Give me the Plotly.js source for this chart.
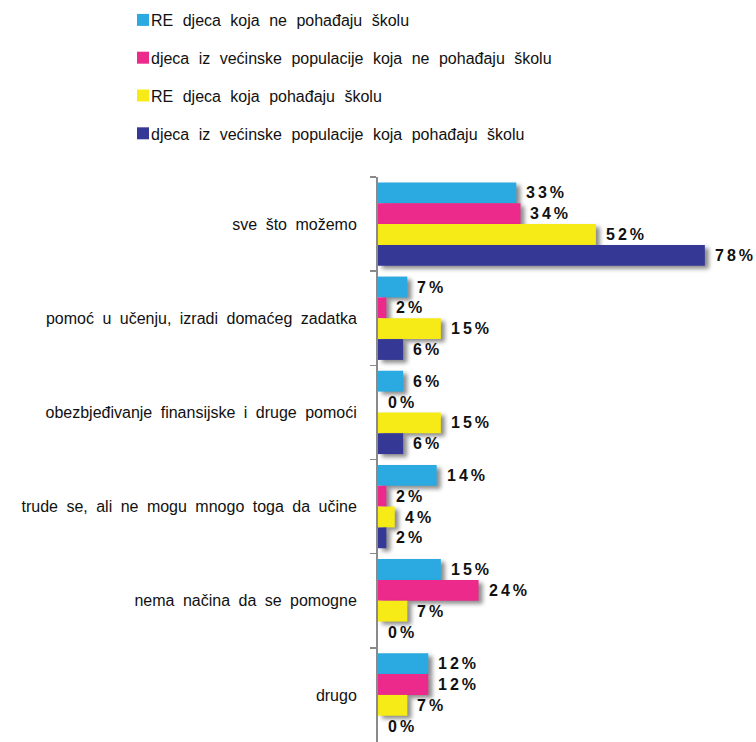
<!DOCTYPE html>
<html>
<head>
<meta charset="utf-8">
<script src="https://cdn.plot.ly/plotly-3.0.1.min.js"></script>
<style>
  html, body { margin: 0; padding: 0; background: #fff; }
  #chart { width: 756px; height: 742px; }
  .bars .point path { filter: drop-shadow(4px 3px 2px rgba(0,0,0,0.45)); }
  .annotation-text { letter-spacing: 3px; }
  .ytick text { word-spacing: 4px; }
  .legendtext { word-spacing: 5px; translate: -12px 0; }
</style>
</head>
<body>
<div id="chart"></div>
<script>
var categories = [
  "sve što možemo",
  "pomoć u učenju, izradi domaćeg zadatka",
  "obezbjeđivanje finansijske i druge pomoći",
  "trude se, ali ne mogu mnogo toga da učine",
  "nema načina da se pomogne",
  "drugo"
];
var seriesNames = [
  "RE djeca koja ne pohađaju školu",
  "djeca iz većinske populacije koja ne pohađaju školu",
  "RE djeca koja pohađaju školu",
  "djeca iz većinske populacije koja pohađaju školu"
];
var reNotInSchool = [33, 7, 6, 14, 15, 12];
var majorityNotInSchool = [34, 2, 0, 2, 24, 12];
var reInSchool = [52, 15, 15, 4, 7, 7];
var majorityInSchool = [78, 6, 6, 2, 0, 0];
var seriesValues = [reNotInSchool, majorityNotInSchool, reInSchool, majorityInSchool];
var colors = ["#2BAAE2", "#EC2A8C", "#F6EB16", "#353894"];

var BARGAP = 0.115;

var traces = seriesValues.map(function (vals, i) {
  return {
    type: "bar",
    orientation: "h",
    name: seriesNames[i],
    legendgroup: "g" + i,
    y: categories,
    x: vals,
    cliponaxis: false,
    marker: { color: colors[i], line: { width: 0 } },
    hoverinfo: "skip"
  };
});

// value labels placed at each bar's end, using the same group geometry as the bars
var nSeries = seriesValues.length;
var barW = (1 - BARGAP) / nSeries;
var annotations = [];
seriesValues.forEach(function (vals, i) {
  vals.forEach(function (v, k) {
    annotations.push({
      x: v,
      y: k - (1 - BARGAP) / 2 + (i + 0.5) * barW,
      xref: "x", yref: "y",
      text: v + "%",
      showarrow: false,
      xanchor: "left", yanchor: "middle",
      xshift: 8,
      font: { family: "Liberation Sans, Arial, sans-serif", size: 16, color: "#111", weight: "bold" }
    });
  });
});

var layout = {
  width: 756,
  height: 742,
  margin: { l: 378, r: 0, t: 177, b: 0, autoexpand: false },
  paper_bgcolor: "#fff",
  plot_bgcolor: "#fff",
  barmode: "group",
  bargap: BARGAP,
  bargroupgap: 0,
  showlegend: true,
  annotations: annotations,
  legend: {
    xref: "container", yref: "container",
    x: 123 / 756, y: 1 - 3 / 742,
    xanchor: "left", yanchor: "top",
    tracegroupgap: 14,
    font: { family: "Liberation Sans, Arial, sans-serif", size: 16, color: "#111" },
    bgcolor: "rgba(0,0,0,0)"
  },
  xaxis: {
    range: [0, 90.2],
    showgrid: false, zeroline: false, showticklabels: false, ticks: "", showline: false,
    fixedrange: true
  },
  yaxis: {
    type: "category",
    autorange: "reversed",
    showgrid: false, zeroline: false,
    showline: true, linecolor: "#8a8a8a", linewidth: 2,
    ticks: "outside", tickson: "boundaries", ticklen: 6, tickcolor: "#8a8a8a", tickwidth: 1.5,
    ticklabelstandoff: 16,
    tickfont: { family: "Liberation Sans, Arial, sans-serif", size: 16, color: "#111" },
    fixedrange: true
  }
};

Plotly.newPlot("chart", traces, layout, { displayModeBar: false, staticPlot: true });
</script>
</body>
</html>
